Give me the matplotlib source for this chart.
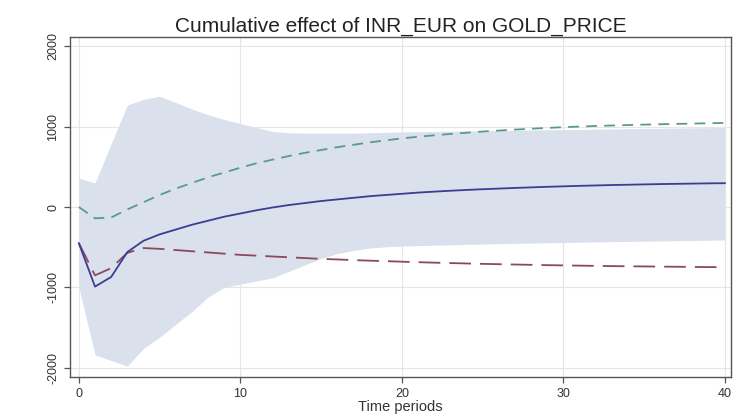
import numpy as np
import matplotlib
matplotlib.use('Agg')
import matplotlib.pyplot as plt

plt.rcParams['font.family'] = ['Liberation Sans', 'DejaVu Sans']

periods = list(range(41))

# cumulative irf (solid navy line)
cirf = [-450, -990, -870, -560, -420, -340, -280, -220, -170, -120,
        -80, -40, -5, 25, 50, 75, 95, 115, 135, 150,
        165, 180, 192, 203, 213, 222, 230, 238, 245, 252,
        258, 264, 269, 274, 278, 282, 286, 289, 292, 295, 297]

# confidence band
band_upper = [360, 300, 790, 1270, 1340, 1380, 1300, 1220, 1150, 1090,
              1040, 990, 940, 925, 920, 920, 920, 920, 925, 930,
              935, 938, 941, 944, 947, 950, 953, 956, 959, 962,
              964, 966, 969, 972, 975, 978, 980, 983, 986, 988, 990]
band_lower = [-1000, -1840, -1910, -1980, -1760, -1620, -1460, -1300, -1120, -1000,
              -960, -920, -880, -800, -720, -640, -580, -540, -510, -495,
              -485, -480, -475, -470, -465, -460, -456, -452, -448, -444,
              -440, -437, -434, -431, -428, -425, -422, -419, -416, -413, -410]

# teal dashed line
upper_line = [0, -140, -130, -30, 60, 150, 230, 300, 370, 430,
              490, 545, 590, 635, 675, 710, 745, 775, 805, 830,
              855, 875, 893, 910, 925, 940, 952, 964, 975, 985,
              994, 1002, 1009, 1015, 1021, 1026, 1031, 1035, 1039, 1043, 1047]

# maroon long-dash line
lower_line = [-450, -850, -760, -570, -510, -520, -535, -550, -565, -580,
              -595, -605, -615, -625, -635, -645, -652, -660, -667, -673,
              -680, -686, -692, -697, -702, -707, -711, -715, -719, -723,
              -726, -729, -732, -735, -737, -739, -741, -743, -745, -747, -748]

xticks = [0, 10, 20, 30, 40]
yticks = [-2000, -1000, 0, 1000, 2000]

fig = plt.figure(figsize=(7.35, 4.2), dpi=100)
ax = fig.add_axes([0.095, 0.102, 0.9, 0.81])

ax.fill_between(periods, band_lower, band_upper, color='#dae1ec', lw=0, zorder=1)
ax.plot(periods, upper_line, color='#5a9a8c', lw=1.3, dashes=(6, 4), zorder=3)
ax.plot(periods, lower_line, color='#8a4a5c', lw=1.3, dashes=(12, 5), zorder=3)
ax.plot(periods, cirf, color='#3c3c90', lw=1.3, zorder=4)

ax.set_xlim(-0.56, 40.4)
ax.set_ylim(-2117, 2117)
ax.set_xticks(xticks)
ax.set_yticks(yticks)
ax.set_yticklabels([str(v) for v in yticks], rotation=90, va='center')
ax.grid(True, color='#e6e6e6', lw=0.8, zorder=0)
ax.set_axisbelow(True)

for s in ax.spines.values():
    s.set_color('#555555')
    s.set_linewidth(1.0)
ax.tick_params(axis='both', direction='out', length=4, width=0.9, colors='#555555',
               labelcolor='#333333', labelsize=9)

ax.set_xlabel('Time periods', fontsize=10.5, color='#333333', labelpad=0)
ax.set_title('Cumulative effect of INR_EUR on GOLD_PRICE', fontsize=15, color='#222222', pad=4)

fig.savefig('out.png', dpi=100)
